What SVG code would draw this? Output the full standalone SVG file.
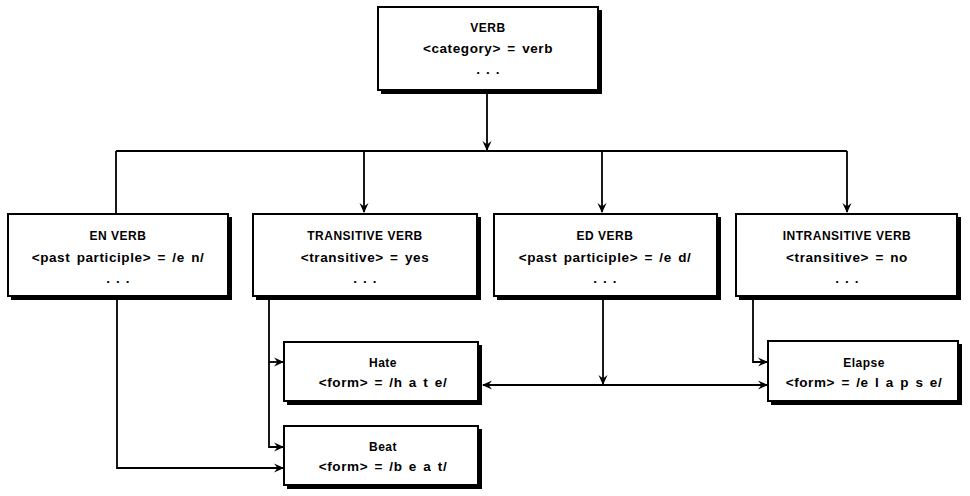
<svg xmlns="http://www.w3.org/2000/svg" width="970" height="496" viewBox="0 0 970 496">
<style>
.sh{fill:#000}
.bx{fill:#fff;stroke:#000;stroke-width:2}
text{font-family:"Liberation Sans",Arial,sans-serif;font-weight:bold;font-size:13.5px;fill:#000;text-anchor:middle;letter-spacing:0.6px;word-spacing:2px}
.t{font-size:12px;letter-spacing:0.5px;word-spacing:0}
.d{letter-spacing:6px}
.c{fill:none;stroke:#000;stroke-width:1.8}
</style>
<defs>
<marker id="ah" viewBox="0 0 10 10" refX="9" refY="5" markerWidth="10" markerHeight="10" markerUnits="userSpaceOnUse" orient="auto">
<path d="M0,0.5 L10,5 L0,9.5 L3.5,5 Z" fill="#000"/>
</marker>
</defs>
<rect width="970" height="496" fill="#fff"/>
<g id="connectors">
<path class="c" d="M487,93 V150" marker-end="url(#ah)"/>
<path class="c" d="M116,151 H847"/>
<path class="c" d="M116,151 V214"/>
<path class="c" d="M364,151 V212" marker-end="url(#ah)"/>
<path class="c" d="M602,151 V212" marker-end="url(#ah)"/>
<path class="c" d="M847,151 V212" marker-end="url(#ah)"/>
<path class="c" d="M269,299 V447 H283" marker-end="url(#ah)"/>
<path class="c" d="M269,362 H283" marker-end="url(#ah)"/>
<path class="c" d="M117,299 V468 H283" marker-end="url(#ah)"/>
<path class="c" d="M603,299 V384" marker-end="url(#ah)"/>
<path class="c" d="M603,385 H483" marker-end="url(#ah)"/>
<path class="c" d="M603,385 H767" marker-end="url(#ah)"/>
<path class="c" d="M753,299 V362 H767" marker-end="url(#ah)"/>
</g>
<g id="verb">
<rect class="sh" x="381" y="10" width="221" height="84"/>
<rect class="bx" x="378" y="7" width="220" height="83"/>
<text class="t" x="488" y="32">VERB</text>
<text x="488" y="53">&lt;category&gt; = verb</text>
<text class="d" x="491" y="74">...</text>
</g>
<g id="en-verb">
<rect class="sh" x="11" y="217" width="221" height="83"/>
<rect class="bx" x="8" y="214" width="220" height="82"/>
<text class="t" x="118" y="240">EN VERB</text>
<text x="118" y="262">&lt;past participle&gt; = /e n/</text>
<text class="d" x="121" y="283">...</text>
</g>
<g id="transitive-verb">
<rect class="sh" x="256" y="217" width="225" height="83"/>
<rect class="bx" x="253" y="214" width="224" height="82"/>
<text class="t" x="365" y="240">TRANSITIVE VERB</text>
<text x="365" y="262">&lt;transitive&gt; = yes</text>
<text class="d" x="368" y="283">...</text>
</g>
<g id="ed-verb">
<rect class="sh" x="497" y="217" width="224" height="83"/>
<rect class="bx" x="494" y="214" width="223" height="82"/>
<text class="t" x="605" y="240">ED VERB</text>
<text x="605" y="262">&lt;past participle&gt; = /e d/</text>
<text class="d" x="608" y="283">...</text>
</g>
<g id="intransitive-verb">
<rect class="sh" x="739" y="217" width="222" height="83"/>
<rect class="bx" x="736" y="214" width="221" height="82"/>
<text class="t" x="847" y="240">INTRANSITIVE VERB</text>
<text x="847" y="262">&lt;transitive&gt; = no</text>
<text class="d" x="850" y="283">...</text>
</g>
<g id="hate">
<rect class="sh" x="287" y="345" width="195" height="60"/>
<rect class="bx" x="284" y="342" width="194" height="59"/>
<text class="t" x="383" y="367">Hate</text>
<text x="383" y="387">&lt;form&gt; = /h a t e/</text>
</g>
<g id="beat">
<rect class="sh" x="287" y="429" width="195" height="60"/>
<rect class="bx" x="284" y="426" width="194" height="59"/>
<text class="t" x="383" y="451">Beat</text>
<text x="383" y="471">&lt;form&gt; = /b e a t/</text>
</g>
<g id="elapse">
<rect class="sh" x="771" y="344" width="191" height="61"/>
<rect class="bx" x="768" y="341" width="190" height="60"/>
<text class="t" x="864" y="367">Elapse</text>
<text x="864" y="387">&lt;form&gt; = /e l a p s e/</text>
</g>
</svg>
